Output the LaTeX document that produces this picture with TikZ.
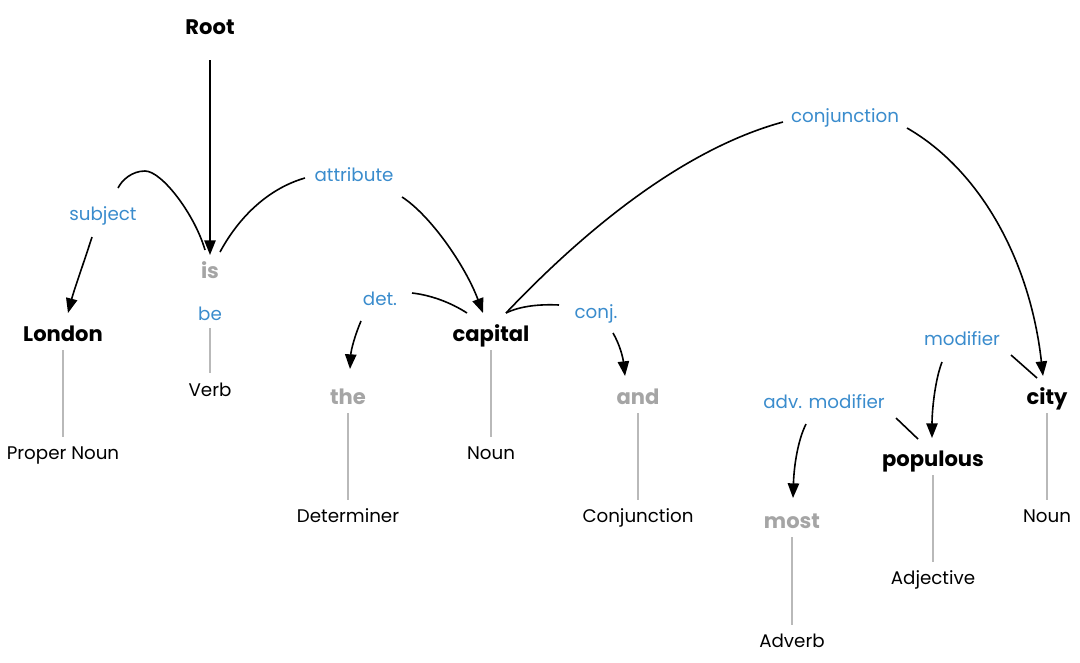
\documentclass[tikz,border=0pt]{standalone}
\usepackage{fontspec}
\setmainfont{Poppins}
\usetikzlibrary{arrows.meta,calc}
\definecolor{lblue}{RGB}{58,140,205}
\definecolor{wgray}{RGB}{165,165,165}
\definecolor{lgray}{RGB}{185,185,185}
\begin{document}
\begin{tikzpicture}[x=0.75pt,y=-0.75pt,
  basetxt/.style={inner sep=0pt, text height=12.5pt, text depth=2.5pt, font=\fontsize{13.7}{16}\selectfont},
  word/.style={basetxt, font=\fontsize{15.8}{18}\selectfont\bfseries},
  gword/.style={word, text=wgray},
  lbl/.style={basetxt, text=lblue},
  postag/.style={basetxt},
  link/.style={line width=1.2pt, black},
  arr/.style={link, -{Triangle[length=11pt,width=8.5pt]}},
  tie/.style={lgray, line width=0.8pt}]
\useasboundingbox (0,0) rectangle (1080,662);
\fill[white] (0,0) rectangle (1080,662);

% words
\node[word]  (root)     at (210,28)  {Root};
\node[gword] (is)       at (210,272) {is};
\node[lbl]   (be)       at (210,314) {be};
\node[postag]   (verb)     at (210,390) {Verb};
\node[word]  (london)   at (63,335)  {London};
\node[postag]   (propn)    at (63,453)  {Proper Noun};
\node[gword] (the)      at (348,398) {the};
\node[postag]   (det)      at (348,516) {Determiner};
\node[word]  (capital)  at (491,335) {capital};
\node[postag]   (noun1)    at (491,453) {Noun};
\node[gword] (and)      at (638,398) {and};
\node[postag]   (cconj)    at (638,516) {Conjunction};
\node[gword] (most)     at (792,522) {most};
\node[postag]   (adv)      at (792,641) {Adverb};
\node[word]  (populous) at (933,460) {populous};
\node[postag]   (adj)      at (933,578) {Adjective};
\node[word]  (city)     at (1047,398) {city};
\node[postag]   (noun2)    at (1047,516) {Noun};

% labels
\node[lbl] (lsubj)  at (103,214) {subject};
\node[lbl] (lattr)  at (354,175) {attribute};
\node[lbl] (ldet)   at (380,299) {det.};
\node[lbl] (lconj)  at (596,312) {conj.};
\node[lbl] (lconjn) at (845,116) {conjunction};
\node[lbl] (lmod)   at (962,339) {modifier};
\node[lbl] (ladv)   at (824,402) {adv. modifier};

% vertical ties
\draw[tie] ($(be)+(0,14)$) -- ($(verb)+(0,-17)$);
\draw[tie] ($(london)+(0,15)$) -- ($(propn)+(0,-16)$);
\draw[tie] ($(the)+(0,15)$) -- ($(det)+(0,-16)$);
\draw[tie] ($(capital)+(0,15)$) -- ($(noun1)+(0,-16)$);
\draw[tie] ($(and)+(0,15)$) -- ($(cconj)+(0,-16)$);
\draw[tie] ($(most)+(0,15)$) -- ($(adv)+(0,-16)$);
\draw[tie] ($(populous)+(0,15)$) -- ($(adj)+(0,-16)$);
\draw[tie] ($(city)+(0,15)$) -- ($(noun2)+(0,-16)$);

% root
\draw[arr] ($(root)+(0,32)$) -- ($(is)+(0,-17)$);

% subject
\draw[link] ($(is)+(-5,-22)$) .. controls (195,215) and (162,171) .. (145,171)
  .. controls (132,171) and (122,180) .. ($(lsubj)+(15,-26)$);
\draw[arr] ($(lsubj)+(-11,23)$) .. controls (84,262) and (74,290) .. ($(london)+(5,-22)$);

% attribute
\draw[link] ($(is)+(10,-20)$) .. controls (240,215) and (270,188) .. ($(lattr)+(-49,3)$);
\draw[arr] ($(lattr)+(48,22)$) .. controls (430,215) and (465,265) .. ($(capital)+(-8,-22)$);

% det
\draw[link] ($(capital)+(-24,-22)$) .. controls (450,302) and (430,295) .. ($(ldet)+(32,-6)$);
\draw[arr] ($(ldet)+(-19,22)$) .. controls (355,335) and (351,350) .. ($(the)+(2,-29)$);

% conj
\draw[link] ($(capital)+(15,-22)$) .. controls (520,306) and (540,304) .. ($(lconj)+(-37,-7)$);
\draw[arr] ($(lconj)+(17,21)$) .. controls (620,345) and (623,358) .. ($(and)+(-13,-22)$);

% conjunction
\draw[link] ($(capital)+(15,-22)$) .. controls (580,235) and (680,150) .. ($(lconjn)+(-62,6)$);
\draw[arr] ($(lconjn)+(62,12)$) .. controls (980,170) and (1030,260) .. ($(city)+(-4,-22)$);

% modifier
\draw[link] ($(city)+(-10,-20)$) -- ($(lmod)+(49,16)$);
\draw[arr] ($(lmod)+(-20,23)$) .. controls (935,380) and (932,410) .. ($(populous)+(-1,-22)$);

% adv. modifier
\draw[link] ($(populous)+(-15,-21)$) -- ($(ladv)+(72,16)$);
\draw[arr] ($(ladv)+(-18,22)$) .. controls (798,440) and (794,465) .. ($(most)+(1,-24)$);
\end{tikzpicture}
\end{document}
